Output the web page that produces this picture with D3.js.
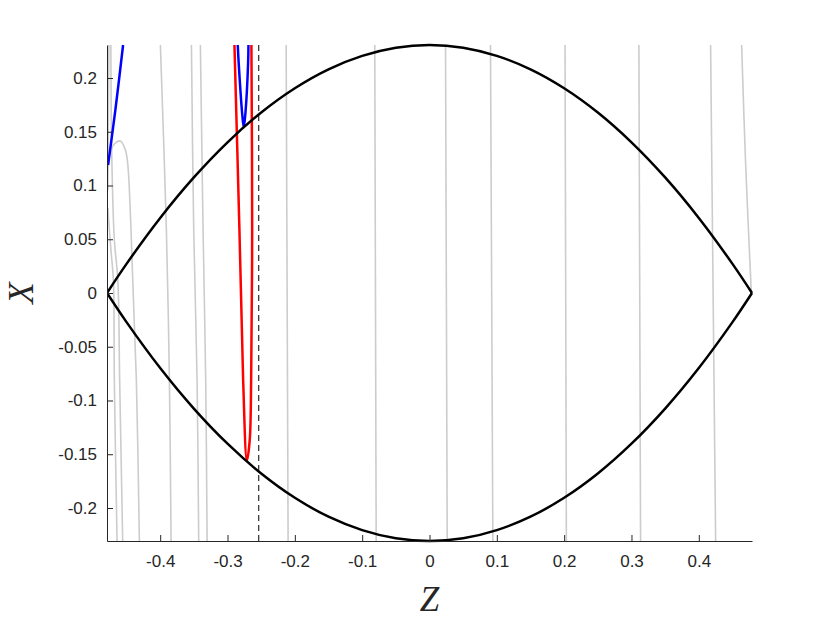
<!DOCTYPE html>
<html>
<head>
<meta charset="utf-8">
<script src="https://cdn.jsdelivr.net/npm/d3@7"></script>
<style>
  body { margin: 0; background: #fff; }
  .axis text { font-family: "Liberation Sans", Arial, sans-serif; font-size: 17px; fill: #262626; }
  .axis path, .axis line { stroke: #262626; }
  .axis-label { font-family: "Liberation Serif", "Times New Roman", serif; font-style: italic; font-size: 35px; fill: #262626; }
</style>
</head>
<body>
<svg id="chart"></svg>
<script>
// lens boundary (Z, upper X, lower X)
const lensZ      = [-0.479, -0.45, -0.4, -0.35, -0.3, -0.25, -0.2, -0.15, -0.1, -0.05, 0, 0.05, 0.1, 0.15, 0.2, 0.25, 0.3, 0.35, 0.4, 0.45, 0.479];
const lensUpperX = [0, 0.0271, 0.0698, 0.1075, 0.1402, 0.1679, 0.1905, 0.2081, 0.2206, 0.2282, 0.2307, 0.2282, 0.2206, 0.2081, 0.1905, 0.1679, 0.1402, 0.1075, 0.0698, 0.0271, 0];
const lensLowerX = [0, -0.0271, -0.0698, -0.1075, -0.1402, -0.1679, -0.1905, -0.2081, -0.2206, -0.2282, -0.2307, -0.2282, -0.2206, -0.2081, -0.1905, -0.1679, -0.1402, -0.1075, -0.0698, -0.0271, 0];

// grey background curves, each a list of [Z, X]
const greyCurves = [
  [[-0.2129, 0.2307], [-0.2100, -0.2307]],
  [[-0.0813, 0.2307], [-0.0792, -0.2307]],
  [[0.0238, 0.2307], [0.0263, -0.2307]],
  [[0.0906, 0.2307], [0.0941, -0.2307]],
  [[0.2013, 0.2307], [0.2033, -0.2307]],
  [[0.3110, 0.2307], [0.3135, -0.2307]],
  [[0.4175, 0.2307], [0.4250, -0.2307]],
  [[0.4636, 0.2307], [0.4695, 0.121], [0.4780, 0.0]],
  [[-0.3997, 0.2307], [-0.3908, 0.0586], [-0.3863, -0.0819], [-0.3838, -0.2307]],
  [[-0.3536, 0.2307], [-0.3502, 0.0586], [-0.3452, -0.0819], [-0.3428, -0.2307]],
  [[-0.3403, 0.2307], [-0.3363, 0.0586], [-0.3324, -0.0819], [-0.3303, -0.2307]],
  [[-0.4777, 0.1144], [-0.4740, 0.1312], [-0.4681, 0.1386], [-0.4591, 0.1414], [-0.4517, 0.1330], [-0.4483, 0.1209], [-0.4443, 0.0744], [-0.4413, 0.0214], [-0.4354, -0.0809], [-0.4309, -0.2307]],
  [[-0.4777, 0.0791], [-0.4755, 0.0586], [-0.4725, 0.0353], [-0.4695, 0.0121], [-0.4681, -0.0809], [-0.4641, -0.2307]],
  [[-0.4733, 0.2307], [-0.4718, 0.1237], [-0.4681, 0.0493], [-0.4629, 0.0121], [-0.4602, -0.0809], [-0.4557, -0.2307]],
  [[-0.4762, 0.2307], [-0.4770, 0.1609], [-0.4777, 0.0958]]
];

const blueCurves = [
  [[-0.4774, 0.1191], [-0.4666, 0.1702], [-0.4551, 0.2307]],
  [[-0.2848, 0.2307], [-0.2834, 0.2140], [-0.2783, 0.1674], [-0.2759, 0.1542], [-0.2734, 0.1674], [-0.2694, 0.2140], [-0.2689, 0.2307]]
];

const redCurves = [
  [[-0.2897, 0.2307], [-0.2823, 0.0586], [-0.2768, -0.0809], [-0.2712, -0.1560], [-0.2670, -0.1367], [-0.2649, -0.0809], [-0.2634, 0.0586], [-0.2645, 0.2307]]
];

const dashedZ = -0.2536;

const xTicks = [-0.4, -0.3, -0.2, -0.1, 0, 0.1, 0.2, 0.3, 0.4];
const yTicks = [-0.2, -0.15, -0.1, -0.05, 0, 0.05, 0.1, 0.15, 0.2];

const width = 830, height = 623;
const margin = {top: 45, right: 78, bottom: 82, left: 107};
const innerW = width - margin.left - margin.right;
const innerH = height - margin.top - margin.bottom;

const svg = d3.select('#chart').attr('width', width).attr('height', height);

const xScale = d3.scaleLinear().domain([-0.479, 0.479]).range([0, innerW]);
const yScale = d3.scaleLinear().domain([-0.2307, 0.2307]).range([innerH, 0]);

const chart = svg.append('g')
    .attr('transform', `translate(${margin.left},${margin.top})`);

chart.append('clipPath').attr('id', 'clip')
  .append('rect').attr('x', 0).attr('y', -2).attr('width', innerW + 2).attr('height', innerH + 4);

const plot = chart.append('g').attr('clip-path', 'url(#clip)');

const line = d3.line()
    .x(d => xScale(d[0]))
    .y(d => yScale(d[1]))
    .curve(d3.curveCatmullRom.alpha(0.5));

// grey curves
plot.selectAll('.grey')
  .data(greyCurves)
  .join('path')
    .attr('class', 'grey')
    .attr('d', line)
    .attr('fill', 'none')
    .attr('stroke', '#cccccc')
    .attr('stroke-width', 1.6);

plot.selectAll('.blue')
  .data(blueCurves)
  .join('path')
    .attr('class', 'blue')
    .attr('d', line)
    .attr('fill', 'none')
    .attr('stroke', '#0000ff')
    .attr('stroke-width', 2.5);

plot.selectAll('.red')
  .data(redCurves)
  .join('path')
    .attr('class', 'red')
    .attr('d', line)
    .attr('fill', 'none')
    .attr('stroke', '#ff0000')
    .attr('stroke-width', 2.5);

// lens boundary
const upper = lensZ.map((z, i) => [z, lensUpperX[i]]);
const lower = lensZ.map((z, i) => [z, lensLowerX[i]]);
plot.selectAll('.lens')
  .data([upper, lower])
  .join('path')
    .attr('class', 'lens')
    .attr('d', line)
    .attr('fill', 'none')
    .attr('stroke', '#000')
    .attr('stroke-width', 2.5);

// dashed vertical marker
plot.append('line')
    .attr('x1', xScale(dashedZ)).attr('x2', xScale(dashedZ))
    .attr('y1', 0).attr('y2', innerH)
    .attr('stroke', '#000')
    .attr('stroke-width', 1)
    .attr('stroke-dasharray', '6,4');

// axes (ticks point inwards, matlab style)
const fmt = v => String(+v.toFixed(2));

const xAxis = d3.axisBottom(xScale)
    .tickValues(xTicks)
    .tickFormat(fmt)
    .tickSizeInner(-6)
    .tickSizeOuter(0)
    .tickPadding(14);

const yAxis = d3.axisLeft(yScale)
    .tickValues(yTicks)
    .tickFormat(fmt)
    .tickSizeInner(-6)
    .tickSizeOuter(0)
    .tickPadding(10);

chart.append('g')
    .attr('class', 'axis x-axis')
    .attr('transform', `translate(0,${innerH})`)
    .call(xAxis)
    .call(g => g.selectAll('text').attr('font-family', null).attr('font-size', null));

chart.append('g')
    .attr('class', 'axis y-axis')
    .call(yAxis)
    .call(g => g.selectAll('text').attr('font-family', null).attr('font-size', null));

// axis labels
chart.append('text')
    .attr('class', 'axis-label')
    .attr('x', innerW / 2)
    .attr('y', innerH + 70)
    .attr('text-anchor', 'middle')
    .text('Z');

chart.append('text')
    .attr('class', 'axis-label')
    .attr('transform', `translate(${-74},${innerH / 2}) rotate(-90)`)
    .attr('text-anchor', 'middle')
    .text('X');
</script>
</body>
</html>
